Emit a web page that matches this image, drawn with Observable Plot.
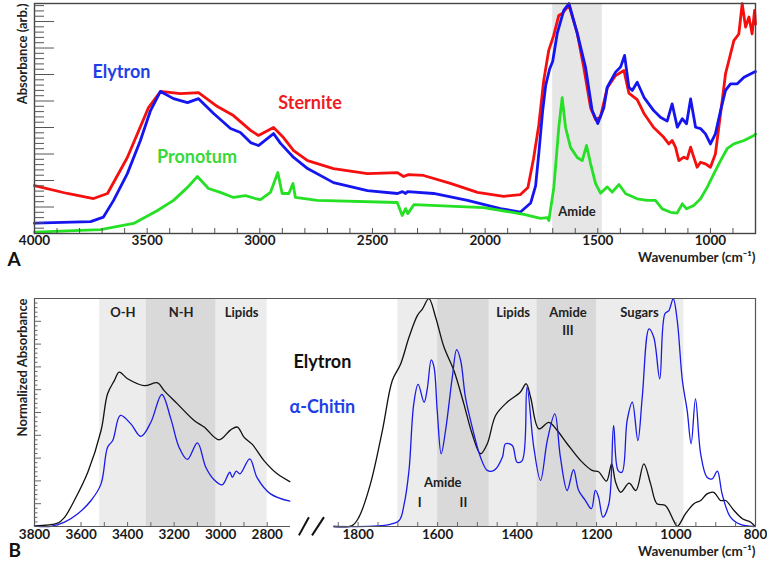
<!DOCTYPE html>
<html><head><meta charset="utf-8">
<script src="https://cdn.jsdelivr.net/npm/d3@7"></script>
<script src="https://cdn.jsdelivr.net/npm/@observablehq/plot@0.6"></script>
<style>body{margin:0;background:#fff} svg{display:block} #b{position:relative;width:767px;height:290px} #b svg{position:absolute;left:0;top:0}</style>
</head><body><div id="a"></div><div id="b"></div>
<script>
// ---------- Panel A data (wavenumber, absorbance arb.) ----------
const sterniteWn = [4000,3854,3738,3676,3588,3494,3441,3352,3272,3188,3117,3041,3006,2939,2895,2850,2788,2673,2522,2389,2362,2340,2273,2154,2034,1918,1843,1810,1785,1762,1740,1718,1696,1673,1658,1628,1591,1562,1532,1510,1488,1458,1421,1384,1362,1325,1295,1252,1207,1185,1170,1155,1140,1118,1103,1088,1074,1059,1044,1022,1000,978,963,948,933,918,896,874,859,844,829,815,804,800];
const sterniteAbs = [1.81,1.51,1.32,1.51,2.87,4.75,5.36,5.28,5.32,4.79,4.45,3.89,3.70,4.0,3.62,3.13,2.75,2.45,2.26,2.30,2.15,2.22,2.19,1.89,1.55,1.40,1.47,1.74,2.83,4.08,5.77,6.9,7.47,8.23,8.30,8.62,7.55,6.26,4.75,4.3,4.4,5.5,5.96,6.15,5.3,5.05,4.53,4.0,3.63,3.38,3.51,3.26,2.75,2.88,2.82,3.26,2.88,2.5,2.69,2.63,2.5,3.0,4.0,5.0,6.03,6.53,7.28,7.53,8.67,7.79,8.17,7.53,8.42,7.9];

const elytronWn = [4000,3751,3694,3649,3588,3530,3485,3441,3383,3321,3272,3205,3130,3086,3041,3006,2939,2908,2850,2788,2673,2522,2389,2367,2353,2344,2229,2078,1932,1843,1798,1776,1762,1745,1731,1714,1700,1680,1651,1628,1591,1554,1525,1500,1473,1458,1421,1399,1381,1362,1347,1325,1295,1252,1222,1192,1170,1147,1125,1106,1088,1066,1044,1022,1000,978,955,933,911,881,851,807,800];
const elytronAbs = [0.39,0.45,0.62,1.25,2.26,3.51,4.64,5.36,5.09,4.94,5.09,4.53,3.96,3.81,3.43,3.32,3.77,3.40,2.87,2.45,1.92,1.62,1.51,1.58,1.51,1.58,1.51,1.25,0.94,0.81,1.15,1.8,3.0,4.6,5.6,6.2,6.5,7.55,8.42,8.68,7.55,6.26,4.64,4.15,4.75,5.52,6.09,6.28,6.72,5.52,5.40,5.71,5.14,4.64,4.39,4.24,4.89,4.01,4.33,4.14,5.08,4.01,3.96,3.76,3.38,3.76,4.64,5.40,5.65,5.65,5.90,6.09,6.11];

const pronotumWn = [4000,3707,3560,3454,3383,3321,3277,3228,3175,3117,3063,3020,2997,2953,2920,2901,2871,2853,2842,2745,2390,2368,2353,2343,2316,2006,1828,1754,1724,1717,1695,1673,1658,1643,1621,1591,1569,1550,1532,1510,1488,1458,1436,1406,1376,1325,1281,1244,1214,1177,1148,1125,1106,1074,1044,1014,985,955,926,896,851,807,800];
const pronotumAbs = [0.05,0.15,0.38,0.87,1.25,1.74,2.15,1.70,1.55,1.36,1.43,1.32,1.28,1.55,2.30,1.51,1.51,1.89,1.36,1.25,1.17,0.68,0.94,0.75,1.09,0.98,0.72,0.57,0.60,0.49,1.74,4.0,5.13,4.0,3.25,2.87,2.75,3.32,2.64,1.89,1.52,1.76,1.56,1.85,1.5,1.31,1.25,1.25,0.93,0.80,0.77,1.12,0.93,1.06,1.31,1.75,2.25,2.75,3.2,3.38,3.51,3.70,3.75];

const amideBandA = [{from: 1700, to: 1480}];
const panelALabels = [
  {text: "Elytron", w: 3614, a: 6.08, color: "#1f3fe6"},
  {text: "Sternite", w: 2777, a: 4.91, color: "#ee1c24"},
  {text: "Pronotum", w: 3279, a: 2.87, color: "#3ad83a"}
];
const panelABandLabel = [{text: "Amide", w: 1592, a: 0.83}];
const aTickLabels = [4000, 3500, 3000, 2500, 2000, 1500, 1000];
const aMinorX = d3.range(3900, 800, -100);
const aMajorY = [1,2,3,4,5,6,7,8];
const aMinorY = d3.range(0.2, 8.68, 0.2).filter(v => Math.abs(v - Math.round(v)) > 0.01);

// ---------- Panel B data (normalized absorbance) ----------
const elyHighWn = [3800,3700,3671,3629,3571,3514,3486,3457,3436,3400,3329,3271,3243,3186,3114,3071,3007,2957,2928,2900,2864,2814,2757,2703];
const elyHighAbs = [0.003,0.015,0.04,0.114,0.238,0.421,0.582,0.640,0.677,0.648,0.618,0.630,0.596,0.538,0.465,0.436,0.380,0.424,0.436,0.392,0.360,0.289,0.231,0.197];
const chitinHighWn = [3800,3729,3671,3614,3557,3514,3486,3464,3431,3386,3343,3300,3253,3214,3179,3143,3100,3064,3029,2993,2961,2950,2933,2917,2875,2843,2786,2703];
const chitinHighAbs = [0.002,0.001,0.019,0.056,0.114,0.187,0.348,0.377,0.487,0.450,0.395,0.457,0.579,0.472,0.348,0.294,0.367,0.260,0.206,0.183,0.238,0.216,0.243,0.231,0.297,0.213,0.143,0.111];
const elyLowWn = [1861,1815,1798,1769,1739,1714,1693,1672,1651,1638,1622,1605,1584,1559,1534,1513,1492,1475,1454,1425,1392,1377,1366,1345,1320,1299,1274,1240,1211,1195,1175,1162,1152,1139,1118,1101,1081,1064,1048,1027,1006,997,976,955,938,922,905,888,875,854,833,812,801];
const elyLowAbs = [0,0.004,0.041,0.187,0.421,0.640,0.713,0.830,0.925,0.955,0.999,0.918,0.787,0.684,0.538,0.406,0.319,0.363,0.487,0.545,0.589,0.626,0.567,0.428,0.457,0.421,0.363,0.289,0.246,0.24,0.199,0.275,0.194,0.150,0.190,0.158,0.275,0.187,0.100,0.092,0.026,0,0.056,0.1,0.114,0.143,0.150,0.114,0.114,0.070,0.034,0.019,0];
const chitinLowWn = [1861,1727,1697,1684,1672,1660,1649,1634,1626,1616,1609,1601,1591,1580,1563,1552,1542,1530,1513,1492,1475,1458,1437,1429,1412,1400,1387,1375,1358,1341,1324,1305,1291,1274,1258,1245,1228,1213,1203,1195,1184,1169,1157,1146,1136,1123,1110,1096,1085,1068,1056,1041,1028,1018,1007,997,984,972,962,951,938,922,909,896,884,863,838,804];
const chitinLowAbs = [0,0.007,0.026,0.1,0.246,0.538,0.623,0.545,0.604,0.731,0.699,0.509,0.319,0.421,0.655,0.776,0.728,0.567,0.436,0.304,0.246,0.246,0.304,0.363,0.355,0.282,0.289,0.611,0.348,0.202,0.377,0.494,0.304,0.158,0.249,0.158,0.114,0.078,0.158,0.129,0.041,0.1,0.443,0.246,0.238,0.465,0.545,0.377,0.567,0.867,0.830,0.648,0.933,0.947,0.999,0.904,0.640,0.509,0.363,0.560,0.319,0.216,0.209,0.243,0.143,0.041,0.009,0];

const highDomain = [3800, 2700];
const lowDomain = [1862, 800];
const bandsLightHigh = [{from: 3520, to: 3320}, {from: 3020, to: 2800}];
const bandsDarkHigh = [{from: 3320, to: 3020}];
const bandsLightLow = [{from: 1700, to: 1600}, {from: 1470, to: 1350}, {from: 1200, to: 980}];
const bandsDarkLow = [{from: 1600, to: 1470}, {from: 1350, to: 1200}];
const bandLabelsHigh = [{text: "O-H", w: 3420, a: 0.939}, {text: "N-H", w: 3170, a: 0.939}, {text: "Lipids", w: 2910, a: 0.939}];
const bandLabelsLow = [
  {text: "Lipids", w: 1410, a: 0.939}, {text: "Amide", w: 1272, a: 0.939}, {text: "III", w: 1272, a: 0.86},
  {text: "Sugars", w: 1092, a: 0.939},
  {text: "Amide", w: 1587, a: 0.193}, {text: "I", w: 1645, a: 0.105}, {text: "II", w: 1535, a: 0.105}
];
const seriesLabelsB = [
  {text: "Elytron", w: 1890, a: 0.719, color: "#111"},
  {text: "α-Chitin", w: 1890, a: 0.522, color: "#1f3fe6"}
];
const highTickLabels = [3800, 3600, 3400, 3200, 3000, 2800];
const lowTickLabels = [1800, 1600, 1400, 1200, 1000, 800];
const highMinorX = d3.range(3700, 2750, -100);
const lowMinorX = d3.range(1850, 800, -50);
const bMajorY = d3.range(0.1, 0.95, 0.1);
const bMinorY = d3.range(0.02, 1, 0.02).filter(v => Math.abs(v * 10 - Math.round(v * 10)) > 0.01);
const breakMarks = [
  {x1: 1949, y1: -0.039, x2: 1924, y2: 0.041},
  {x1: 1916, y1: -0.039, x2: 1886, y2: 0.041}
];

// ---------- build ----------
const zip = (ws, as) => ws.map((w, i) => ({w, a: as[i]}));
const font = "Lato, 'Open Sans', sans-serif";
const baseStyle = {fontFamily: font, fontSize: "13px", fontWeight: "bold", color: "#1a1a1a", background: "#fff", overflow: "visible"};
const fmt = d3.format("d");
const noText = () => "";

const plotA = Plot.plot({
  width: 767, height: 275,
  marginLeft: 34, marginRight: 12, marginTop: 3, marginBottom: 42,
  style: baseStyle,
  x: {domain: [4000, 800], label: null},
  y: {domain: [0, 8.68], label: null},
  marks: [
    Plot.rect(amideBandA, {x1: "from", x2: "to", y1: 0, y2: 8.68, fill: "#e6e6e6"}),
    Plot.line(zip(sterniteWn, sterniteAbs), {x: "w", y: "a", stroke: "#f50f0f", strokeWidth: 2.8}),
    Plot.line(zip(elytronWn, elytronAbs), {x: "w", y: "a", stroke: "#1515f0", strokeWidth: 2.8}),
    Plot.line(zip(pronotumWn, pronotumAbs), {x: "w", y: "a", stroke: "#25e025", strokeWidth: 2.8}),
    Plot.frame({stroke: "#444", strokeWidth: 1.4}),
    Plot.axisY({ticks: aMajorY, tickSize: -20, tickFormat: noText, stroke: "#555"}),
    Plot.axisY({ticks: aMinorY, tickSize: -10, tickFormat: noText, stroke: "#555"}),
    Plot.axisX({ticks: aMinorX, tickSize: -5, tickFormat: noText, stroke: "#555"}),
    Plot.axisX({ticks: aTickLabels, tickSize: 0, tickPadding: 2, tickFormat: fmt, fontSize: 13.5}),
    ...panelALabels.map(d => Plot.text([d], {x: "w", y: "a", text: "text", fill: d.color, fontSize: 18, fontWeight: "bold"})),
    Plot.text(panelABandLabel, {x: "w", y: "a", text: "text", fill: "#222", fontSize: 13, fontWeight: "bold"}),
    Plot.text(["Absorbance (arb.)"], {frameAnchor: "top-left", rotate: -90, textAnchor: "end", dx: -17, fontSize: 13, fill: "#222"}),
    Plot.text(["Wavenumber (cm⁻¹)"], {frameAnchor: "bottom-right", textAnchor: "end", dy: 28.5, fontSize: 13.5, fill: "#222"}),
    Plot.text(["A"], {frameAnchor: "bottom-left", dx: -27, dy: 32, fontSize: 19, fill: "#111"})
  ]
});

// Panel B, high-wavenumber part (bottom layer; frame spans full width)
const plotB1 = Plot.plot({
  width: 767, height: 290,
  marginLeft: 34, marginRight: 12, marginTop: 23, marginBottom: 39,
  style: baseStyle,
  x: {domain: highDomain, range: [34, 290], label: null},
  y: {domain: [0, 1], label: null},
  marks: [
    Plot.rect(bandsLightHigh, {x1: "from", x2: "to", y1: 0, y2: 1, fill: "#ececec"}),
    Plot.rect(bandsDarkHigh, {x1: "from", x2: "to", y1: 0, y2: 1, fill: "#d9d9d9"}),
    Plot.line(zip(elyHighWn, elyHighAbs), {x: "w", y: "a", stroke: "#111", strokeWidth: 1.3, curve: "catmull-rom"}),
    Plot.line(zip(chitinHighWn, chitinHighAbs), {x: "w", y: "a", stroke: "#1a1ae8", strokeWidth: 1.3, curve: "catmull-rom"}),
    Plot.ruleX([highDomain[0]], {stroke: "#555", strokeWidth: 1.2}),
    Plot.ruleY([0], {x1: highDomain[0], x2: highDomain[1], stroke: "#555", strokeWidth: 1.2}),
    Plot.axisY({ticks: bMajorY, tickSize: -7, tickFormat: noText, stroke: "#666"}),
    Plot.axisY({ticks: bMinorY, tickSize: -3.5, tickFormat: noText, stroke: "#666"}),
    Plot.axisX({ticks: highMinorX, tickSize: -4, tickFormat: noText, stroke: "#666"}),
    Plot.axisX({ticks: highTickLabels, tickSize: 0, tickPadding: 3, tickFormat: fmt, fontSize: 13.5}),
    Plot.text(bandLabelsHigh, {x: "w", y: "a", text: "text", fill: "#222", fontSize: 13, fontWeight: "bold"}),
    Plot.text(["Normalized Absorbance"], {frameAnchor: "top-left", rotate: -90, textAnchor: "end", dx: -17, fontSize: 13, fill: "#222"}),
    Plot.text(["B"], {frameAnchor: "bottom-left", dx: -26, dy: 30, fontSize: 19, fill: "#111"})
  ]
});

// Panel B, low-wavenumber part (top layer, transparent)
const plotB2 = Plot.plot({
  width: 767, height: 290,
  marginLeft: 34, marginRight: 12, marginTop: 23, marginBottom: 39,
  style: {...baseStyle, background: "transparent"},
  x: {domain: lowDomain, range: [333, 755], label: null},
  y: {domain: [0, 1], label: null, axis: null},
  marks: [
    Plot.rect(bandsLightLow, {x1: "from", x2: "to", y1: 0, y2: 1, fill: "#ececec"}),
    Plot.rect(bandsDarkLow, {x1: "from", x2: "to", y1: 0, y2: 1, fill: "#d9d9d9"}),
    Plot.line(zip(elyLowWn, elyLowAbs), {x: "w", y: "a", stroke: "#111", strokeWidth: 1.3, curve: "catmull-rom"}),
    Plot.line(zip(chitinLowWn, chitinLowAbs), {x: "w", y: "a", stroke: "#1a1ae8", strokeWidth: 1.3, curve: "catmull-rom"}),
    Plot.ruleY([1], {stroke: "#555", strokeWidth: 1.2}),
    Plot.ruleX([lowDomain[1]], {stroke: "#555", strokeWidth: 1.2}),
    Plot.ruleY([0], {x1: lowDomain[0], x2: lowDomain[1], stroke: "#555", strokeWidth: 1.2}),
    Plot.link(breakMarks, {x1: "x1", y1: "y1", x2: "x2", y2: "y2", stroke: "#111", strokeWidth: 2}),
    Plot.axisX({ticks: lowMinorX, tickSize: -4, tickFormat: noText, stroke: "#666"}),
    Plot.axisX({ticks: lowTickLabels, tickSize: 0, tickPadding: 3, tickFormat: fmt, fontSize: 13.5}),
    Plot.text(bandLabelsLow, {x: "w", y: "a", text: "text", fill: "#222", fontSize: 13, fontWeight: "bold"}),
    ...seriesLabelsB.map(d => Plot.text([d], {x: "w", y: "a", text: "text", fill: d.color, fontSize: 18, fontWeight: "bold"})),
    Plot.text(["Wavenumber (cm⁻¹)"], {frameAnchor: "bottom-right", textAnchor: "end", dy: 29, fontSize: 13.5, fill: "#222"})
  ]
});

document.getElementById("a").append(plotA);
document.getElementById("b").append(plotB1, plotB2);
</script>
</body></html>
